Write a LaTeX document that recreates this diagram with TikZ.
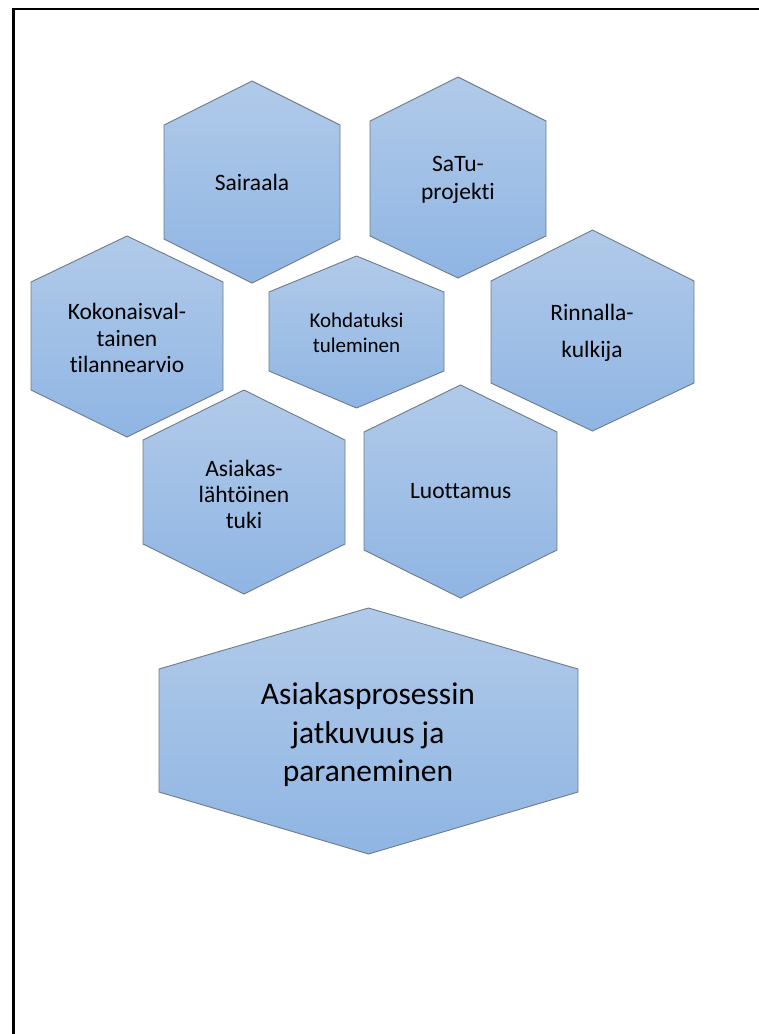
\documentclass[tikz,border=0pt]{standalone}
\usepackage{fontspec}
\setmainfont{Carlito}[Ligatures={NoCommon}]
\definecolor{hextop}{HTML}{B1CAE9}
\definecolor{hexbot}{HTML}{8FB5E3}
\definecolor{hexline}{HTML}{6E7B8A}
\tikzset{
  hexshape/.style={draw=hexline, line width=0.9pt, top color=hextop, bottom color=hexbot, line join=miter},
  hexlabel/.style={align=center, text=black, inner sep=0pt},
  frameline/.style={line width=2.4pt, draw=black}
}
% \hexa{l}{r}{t}{u}{d}{b}
\newcommand{\hexa}[6]{%
  \shadedraw[hexshape] ({(#1+#2)/2},#3) -- (#2,#4) -- (#2,#5) -- ({(#1+#2)/2},#6) -- (#1,#5) -- (#1,#4) -- cycle;}
\begin{document}
\begin{tikzpicture}[x=1pt,y=-1pt]
\useasboundingbox (0,0) rectangle (759,1034);
\fill[white] (0,0) rectangle (759,1034);
% frame (cut at right and bottom)
\coordinate (fb) at (13.3,1034);
\coordinate (fc) at (13.3,8.7);
\coordinate (fr) at (759,8.7);
\draw[frameline] (fb) -- (fc) -- (fr);
% hexagons
\hexa{164}{340}{81}{125}{239}{283}
\hexa{370}{546}{77}{121}{236}{278}
\hexa{491}{694}{230}{281}{383}{431}
\hexa{31}{223}{236}{282}{390}{437}
\hexa{269}{444}{256}{292}{371}{408}
\hexa{143}{345}{390}{440}{544}{594}
\hexa{364}{557}{385}{432}{550}{598}
\hexa{159}{578}{608}{669}{792}{854}
% labels
\node[hexlabel, font=\fontsize{23.5}{27.7}\selectfont] (sairaala) at (252,182) {Sairaala};
\node[hexlabel, font=\fontsize{23.5}{27.7}\selectfont] (satu) at (458,180) {SaTu-\\projekti};
\node[hexlabel, font=\fontsize{23.5}{36.7}\selectfont] (rinnalla) at (592,333) {Rinnalla-\\kulkija};
\node[hexlabel, font=\fontsize{23.5}{26.7}\selectfont] (kokonais) at (127,338) {Kokonaisval-\\tainen\\tilannearvio};
\node[hexlabel, font=\fontsize{21}{25}\selectfont] (kohdatuksi) at (356.5,333) {Kohdatuksi\\tuleminen};
\node[hexlabel, font=\fontsize{23.5}{26}\selectfont] (asiakas) at (244,494) {Asiakas-\\lähtöinen\\tuki};
\node[hexlabel, font=\fontsize{23.5}{27.7}\selectfont] (luottamus) at (460.7,491) {Luottamus};
\node[hexlabel, font=\fontsize{31.5}{38.5}\selectfont] (prosessi) at (368,735) {Asiakasprosessin\\jatkuvuus ja\\paraneminen};
\end{tikzpicture}
\end{document}
